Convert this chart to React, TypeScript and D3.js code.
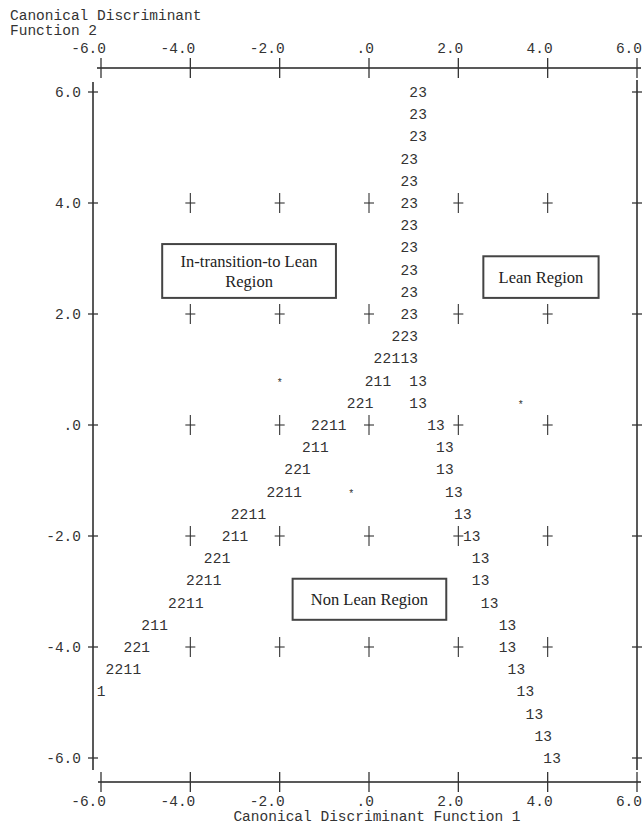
import React from "react";
import * as d3 from "d3";

// SPSS style territorial map, canonical discriminant functions 1 and 2

const xTicks = [-6, -4, -2, 0, 2, 4, 6];
const xTickLabels = ["-6.0", "-4.0", "-2.0", ".0", "2.0", "4.0", "6.0"];
const yTicks = [6, 4, 2, 0, -2, -4, -6];
const yTickLabels = ["6.0", "4.0", "2.0", ".0", "-2.0", "-4.0", "-6.0"];

// inner "+" marks of the grid
const crossX = [-4, -2, 0, 2, 4];
const crossY = [4, 2, 0, -2, -4];

// territory boundary characters: row (function 2), start (function 1), text
const rowY = [6.0, 5.6, 5.2, 4.8, 4.4, 4.0, 3.6, 3.2, 2.8, 2.4, 2.0, 1.6, 1.2,
  0.8, 0.8, 0.4, 0.4, 0.0, 0.0, -0.4, -0.4, -0.8, -0.8, -1.2, -1.2, -1.6, -1.6,
  -2.0, -2.0, -2.4, -2.4, -2.8, -2.8, -3.2, -3.2, -3.6, -3.6, -4.0, -4.0,
  -4.4, -4.4, -4.8, -4.8, -5.2, -5.6, -6.0];
const rowX = [1.0, 1.0, 1.0, 0.8, 0.8, 0.8, 0.8, 0.8, 0.8, 0.8, 0.8, 0.6, 0.2,
  0.0, 1.0, -0.4, 1.0, -1.2, 1.4, -1.4, 1.6, -1.8, 1.6, -2.2, 1.8, -3.0, 2.0,
  -3.2, 2.2, -3.6, 2.4, -4.0, 2.4, -4.4, 2.6, -5.0, 3.0, -5.4, 3.0,
  -5.8, 3.2, -6.0, 3.4, 3.6, 3.8, 4.0];
const rowText = ["23", "23", "23", "23", "23", "23", "23", "23", "23", "23", "23", "223", "22113",
  "211", "13", "221", "13", "2211", "13", "211", "13", "221", "13", "2211", "13", "2211", "13",
  "211", "13", "221", "13", "2211", "13", "2211", "13", "211", "13", "221", "13",
  "2211", "13", "1", "13", "13", "13", "13"];

// group centroids
const centroidX = [-2.0, 3.4, -0.4];
const centroidY = [0.8, 0.4, -1.2];

// region labels (boxes in data units)
const regionLines = [["In-transition-to Lean", "Region"], ["Lean Region"], ["Non Lean Region"]];
const regionX0 = [-4.63, 2.56, -1.71];
const regionX1 = [-0.74, 5.14, 1.73];
const regionY0 = [3.26, 3.04, -2.77];
const regionY1 = [2.29, 2.29, -3.51];

const mono = "'Liberation Mono', 'DejaVu Sans Mono', monospace";
const serif = "'Liberation Serif', 'DejaVu Serif', serif";
const STEP = 0.2;

export default function App() {
  const width = 642;
  const height = 827;
  const x = d3.scaleLinear().domain([-6, 6]).range([101, 637]);
  const y = d3.scaleLinear().domain([6, -6]).range([92, 758]);

  const topY = 68;
  const bottomY = 782;
  const leftX = 93;
  const rightX = 637;

  const chars: { cx: number; cy: number; c: string }[] = [];
  rowText.forEach((s, i) => {
    s.split("").forEach((c, j) => {
      chars.push({ cx: x(rowX[i] + j * STEP), cy: y(rowY[i]), c });
    });
  });

  return (
    <svg
      width={width}
      height={height}
      style={{ position: "absolute", left: 0, top: 0, background: "#fff" }}
    >
      <g fontFamily={mono} fontSize={14.5} fill="#333">
        <text x={10} y={20}>Canonical Discriminant</text>
        <text x={10} y={35}>Function 2</text>
        <text x={(x(-6) + x(6)) / 2 + 8} y={821} textAnchor="middle">
          Canonical Discriminant Function 1
        </text>
      </g>

      {/* frame */}
      <g stroke="#222" strokeWidth={1.5}>
        <line x1={leftX + 4} x2={rightX + 4} y1={topY} y2={topY} />
        <line x1={leftX + 5} x2={rightX + 4} y1={bottomY} y2={bottomY} />
        <line x1={leftX} x2={leftX} y1={82} y2={770} />
        <line x1={rightX} x2={rightX} y1={80} y2={770} />
      </g>

      {/* x ticks top and bottom */}
      <g stroke="#333" strokeWidth={1.3}>
        {xTicks.map((t) => (
          <g key={"xt" + t}>
            <line x1={x(t)} x2={x(t)} y1={topY - 10} y2={topY + 10} />
            <line x1={x(t)} x2={x(t)} y1={bottomY - 10} y2={bottomY + 10} />
          </g>
        ))}
        {yTicks.map((t) => (
          <g key={"yt" + t}>
            <line x1={leftX - 5} x2={leftX + 5} y1={y(t)} y2={y(t)} />
            <line x1={rightX - 5} x2={rightX + 5} y1={y(t)} y2={y(t)} />
          </g>
        ))}
      </g>

      <g fontFamily={mono} fontSize={14.5} fill="#333">
        {xTicks.map((t, i) => (
          <g key={"xl" + t}>
            <text x={x(t) + 5} y={53} textAnchor="end">{xTickLabels[i]}</text>
            <text x={x(t) + 5} y={806} textAnchor="end">{xTickLabels[i]}</text>
          </g>
        ))}
        {yTicks.map((t, i) => (
          <text key={"yl" + t} x={81} y={y(t)} dy="0.35em" textAnchor="end">
            {yTickLabels[i]}
          </text>
        ))}
      </g>

      {/* inner crosses */}
      <g stroke="#333" strokeWidth={1.1}>
        {crossX.map((cx) =>
          crossY.map((cy) => (
            <g key={cx + "_" + cy}>
              <line x1={x(cx)} x2={x(cx)} y1={y(cy) - 10} y2={y(cy) + 10} />
              <line x1={x(cx) - 5} x2={x(cx) + 5} y1={y(cy)} y2={y(cy)} />
            </g>
          ))
        )}
      </g>

      {/* territory boundaries */}
      <g fontFamily={mono} fontSize={14.5} fill="#333" textAnchor="middle">
        {chars.map((d, i) => (
          <text key={"c" + i} x={d.cx} y={d.cy} dy="0.35em">{d.c}</text>
        ))}
        {centroidX.map((cx, i) => (
          <text key={"s" + i} x={x(cx)} y={y(centroidY[i])} dy={5} fontSize={10}>*</text>
        ))}
      </g>

      {/* region boxes */}
      {regionLines.map((lines, i) => {
        const x0 = x(regionX0[i]);
        const x1 = x(regionX1[i]);
        const y0 = y(regionY0[i]);
        const y1 = y(regionY1[i]);
        const cy = (y0 + y1) / 2;
        const lh = 20;
        return (
          <g key={"r" + i}>
            <rect
              x={x0}
              y={y0}
              width={x1 - x0}
              height={y1 - y0}
              fill="#fff"
              stroke="#444"
              strokeWidth={2}
            />
            {lines.map((l, j) => (
              <text
                key={j}
                x={(x0 + x1) / 2}
                y={cy + (j - (lines.length - 1) / 2) * lh}
                dy="0.35em"
                textAnchor="middle"
                fontFamily={serif}
                fontSize={16.5}
                fill="#222"
              >
                {l}
              </text>
            ))}
          </g>
        );
      })}
    </svg>
  );
}
